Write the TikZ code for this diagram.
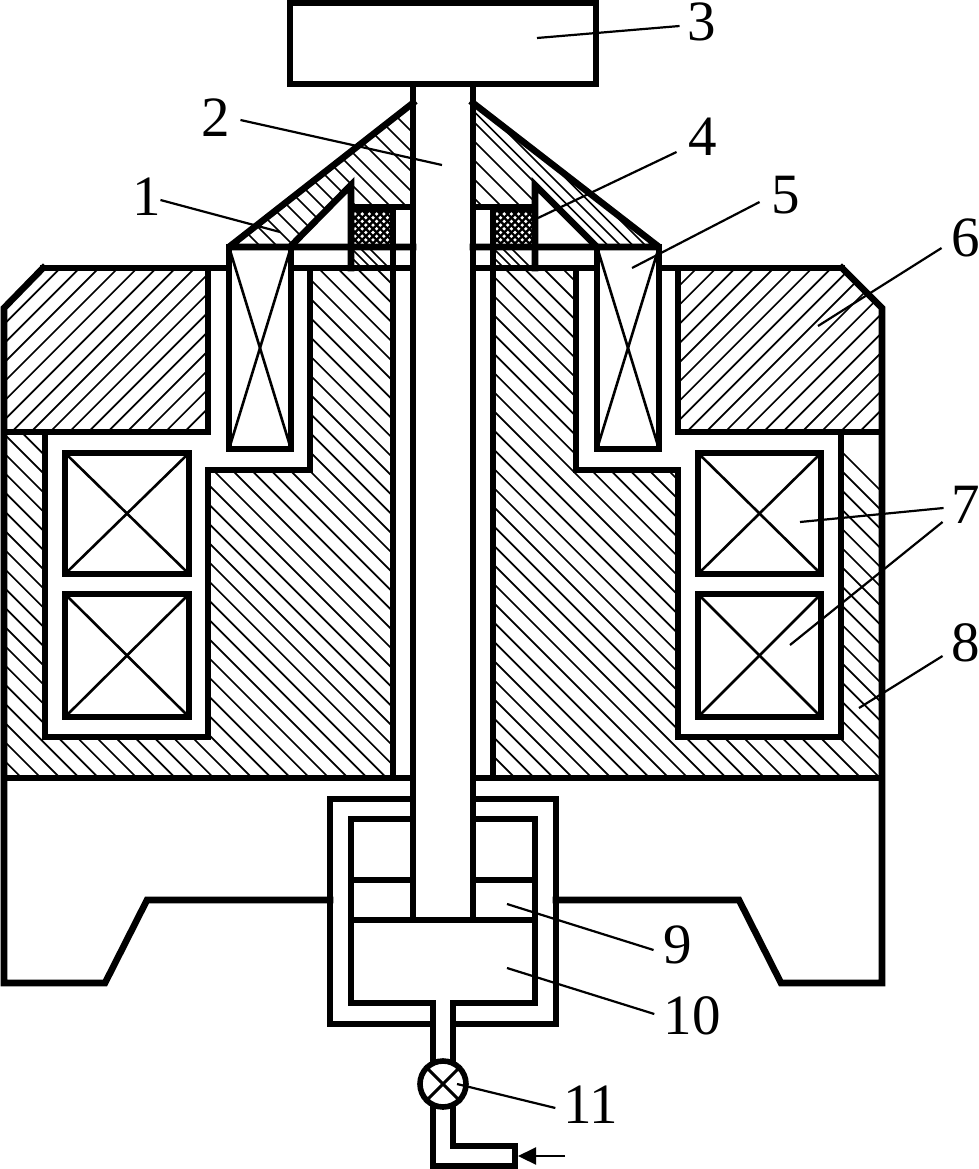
\documentclass[tikz,border=0pt]{standalone}
\usepackage{fontspec}
\setmainfont{Liberation Serif}
\usetikzlibrary{arrows.meta}
\tikzset{
wall/.style={line width=6.6pt,line cap=rect,line join=miter,miter limit=3},
thinline/.style={line width=2.6pt},
hatchline/.style={line width=1.7pt},
leader/.style={line width=2.2pt},
tag/.style={font=\fontsize{57}{57}\selectfont,inner sep=0pt}
}
\newcommand{\hatchse}[3]{\foreach \c in {#1,#2,...,#3} \draw [hatchline] (-100,{\c-100})--(1300,{\c+1300});}
\newcommand{\hatchne}[3]{\foreach \c in {#1,#2,...,#3} \draw [hatchline] ({\c+100},-100)--({\c-1300},1300);}
\newcommand{\meshfill}[1]{
\fill (#1,207) rectangle ({#1+42},247);
\begin{scope}
\clip ({#1+3},210) rectangle ({#1+39},244);
\foreach \i in {0,...,8} \foreach \j in {0,...,5}
\fill [white] ({#1+4+mod(\i,2)*3.6+7.2*\j},{214+3.7*\i}) circle (1.8);
\end{scope}
}
\begin{document}
\begin{tikzpicture}[x=1pt,y=-1pt]
\useasboundingbox (0,0) rectangle (979,1169);

\begin{scope}
\clip (4,308)--(43,268)--(208,268)--(208,432)--(4,432)--cycle;
\hatchne{251.6}{270.8}{650}
\end{scope}
\begin{scope}
\clip (678,268)--(842,268)--(882,308)--(882,432)--(678,432)--cycle;
\hatchne{945.8}{965}{1320}
\end{scope}
\begin{scope}
\clip (4,432)--(4,778)--(393,778)--(393,268)--(310,268)--(310,470)--(208,470)--(208,737)--(45,737)--(45,432)--cycle;
\hatchse{-127}{-107.8}{780}
\end{scope}
\begin{scope}
\clip (882,432)--(882,778)--(493,778)--(493,268)--(576,268)--(576,470)--(678,470)--(678,737)--(841,737)--(841,432)--cycle;
\hatchse{-390}{-370.8}{300}
\end{scope}

\begin{scope}
\clip (413,103)--(229,247)--(290,247)--(351,185)--(351,207)--(413,207)--cycle;
\hatchse{-280}{-260}{-200}
\hatchse{-184}{-167}{-10}
\end{scope}
\begin{scope}
\clip (473,103)--(659,247)--(597,247)--(535,185)--(535,207)--(473,207)--cycle;
\hatchse{-400}{-387.5}{-362}
\hatchse{-352}{-333}{-270}
\end{scope}

\meshfill{351}
\meshfill{493}
\begin{scope}
\clip (351,247) rectangle (393,268);
\hatchse{-121}{-112}{-70}
\end{scope}
\begin{scope}
\clip (493,247) rectangle (535,268);
\hatchse{-263}{-254}{-210}
\end{scope}

\draw [wall] (290,3) rectangle (596,84);
\draw [wall] (413,84)--(413,920);
\draw [wall] (473,84)--(473,920);

\draw [wall] (413,103)--(229,247)--(413,247);
\draw [wall] (473,103)--(659,247)--(473,247);
\draw [wall] (290,247)--(351,185)--(351,268);
\draw [wall] (597,247)--(535,185)--(535,268);
\draw [wall] (351,207)--(413,207);
\draw [wall] (535,207)--(473,207);
\draw [wall] (393,207)--(393,778);
\draw [wall] (493,207)--(493,778);

\draw [wall] (43,268)--(229,268);
\draw [wall] (291,268)--(413,268);
\draw [wall] (473,268)--(597,268);
\draw [wall] (659,268)--(842,268);

\draw [wall] (229,247) rectangle (291,449);
\draw [wall] (597,247) rectangle (659,449);
\draw [thinline] (229,247)--(291,449);
\draw [thinline] (291,247)--(229,449);
\draw [thinline] (597,247)--(659,449);
\draw [thinline] (659,247)--(597,449);

\draw [wall] (43,268)--(4,308)--(4,983)--(105,983)--(147,900)--(330,900);
\draw [wall] (842,268)--(882,308)--(882,983)--(781,983)--(739,900)--(556,900);
\draw [wall] (4,432)--(208,432)--(208,268);
\draw [wall] (882,432)--(678,432)--(678,268);
\draw [wall] (45,432)--(45,737)--(208,737)--(208,470)--(310,470)--(310,268);
\draw [wall] (841,432)--(841,737)--(678,737)--(678,470)--(576,470)--(576,268);
\draw [wall] (4,778)--(413,778);
\draw [wall] (473,778)--(882,778);

\foreach \x/\w in {65/124,698/123} {
\draw [wall] (\x,453) rectangle ({\x+\w},574);
\draw [thinline] (\x,453)--({\x+\w},574);
\draw [thinline] ({\x+\w},453)--(\x,574);
\draw [wall] (\x,594) rectangle ({\x+\w},717);
\draw [thinline] (\x,594)--({\x+\w},717);
\draw [thinline] ({\x+\w},594)--(\x,717);
}

\draw [wall] (413,799)--(330,799)--(330,1024)--(433,1024);
\draw [wall] (473,799)--(556,799)--(556,1024)--(453,1024);
\draw [wall] (413,819)--(351,819)--(351,1003)--(433,1003)--(433,1062);
\draw [wall] (473,819)--(535,819)--(535,1003)--(453,1003)--(453,1062);
\draw [wall] (351,880)--(413,880);
\draw [wall] (473,880)--(535,880);
\draw [wall] (351,920)--(535,920);

\node [circle,draw,line width=5.6pt,minimum size=46pt,inner sep=0pt] (valve) at (443,1084) {};
\draw [line width=3pt] (valve.45)--(valve.225);
\draw [line width=3pt] (valve.135)--(valve.315);
\draw [wall] (433,1108)--(433,1166)--(515,1166)--(515,1146)--(453,1146)--(453,1108);

\coordinate (feedin) at (565,1156);
\coordinate (feedend) at (518,1156);
\draw [leader,-{Triangle[length=18pt,width=17pt]}] (feedin)--(feedend);

\node [tag] (n1) at (147,197) {1};
\node [tag] (n2) at (216,118) {2};
\node [tag] (n3) at (702,22) {3};
\node [tag] (n4) at (703,137) {4};
\node [tag] (n5) at (786,195) {5};
\node [tag] (n6) at (966,238) {6};
\node [tag] (n7) at (966,505) {7};
\node [tag] (n8) at (966,643) {8};
\node [tag] (n9) at (678,945) {9};
\node [tag] (n10) at (692,1016) {10};
\node [tag] (n11) at (591,1105) {11};

\coordinate (p1) at (280,232);
\coordinate (p2) at (442,165);
\coordinate (p3) at (537,38);
\coordinate (p4) at (538,218);
\coordinate (p5) at (632,268);
\coordinate (p6) at (818,326);
\coordinate (p7a) at (800,522);
\coordinate (p7b) at (790,645);
\coordinate (p8) at (859,708);
\coordinate (p9) at (507,904);
\coordinate (p10) at (507,968);
\coordinate (p11) at (457,1084);

\draw [leader] (p1)--([shift={(-1,3)}]n1.east);
\draw [leader] (p2)--([shift={(10,2)}]n2.east);
\draw [leader] (p3)--([shift={(-8,4)}]n3.west);
\draw [leader] (p4)--([shift={(-12,15)}]n4.west);
\draw [leader] (p5)--([shift={(-12,7)}]n5.west);
\draw [leader] (p6)--([shift={(-10,10)}]n6.west);
\draw [leader] (p7a)--([shift={(-8,3)}]n7.west);
\draw [leader] (p7b)--([shift={(-9,17)}]n7.west);
\draw [leader] (p8)--([shift={(-9,13)}]n8.west);
\draw [leader] (p9)--([shift={(-10,5)}]n9.west);
\draw [leader] (p10)--([shift={(-9,-2)}]n10.west);
\draw [leader] (p11)--([shift={(-8,3)}]n11.west);
\end{tikzpicture}
\end{document}
